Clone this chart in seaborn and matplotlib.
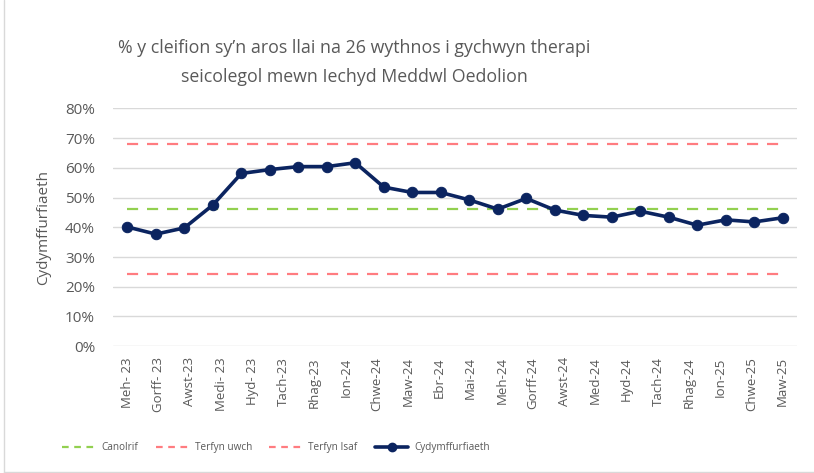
import numpy as np
import pandas as pd
import matplotlib
matplotlib.use('Agg')
import matplotlib.pyplot as plt
import seaborn as sns
from matplotlib.lines import Line2D

# tick labels (22 months) - the chart itself has 24 markers
misoedd = ['Meh- 23', 'Gorff- 23', 'Awst-23', 'Medi- 23', 'Hyd- 23', 'Tach-23', 'Rhag-23',
           'Ion-24', 'Chwe-24', 'Maw-24', 'Ebr-24', 'Mai-24', 'Meh-24', 'Gorff-24',
           'Awst-24', 'Med-24', 'Hyd-24', 'Tach-24', 'Rhag-24', 'Ion-25', 'Chwe-25', 'Maw-25']

cydymffurfiaeth = [40.1, 37.7, 39.8, 47.5, 58.1, 59.4, 60.4, 60.4, 61.7, 53.5, 51.7, 51.7,
                   49.2, 46.1, 49.7, 45.8, 44.0, 43.4, 45.4, 43.4, 40.7, 42.5, 41.8, 43.2]

canolrif = 46.0
terfyn_uwch = 67.9
terfyn_isaf = 24.4

sns.set_theme(style='white')
plt.rcParams['font.family'] = ['Open Sans', 'DejaVu Sans']

grey_txt = '#595959'
navy = '#0B2460'
green = '#92D050'
red = '#FF7C80'

df = pd.DataFrame({'pwynt': np.arange(len(cydymffurfiaeth)), 'gwerth': cydymffurfiaeth})

fig = plt.figure(figsize=(8.14, 4.73), dpi=100)
ax = fig.add_axes([0.139, 0.268, 0.840, 0.503])

n = len(cydymffurfiaeth)
ax.hlines(canolrif, 0, n - 1, colors=green, linestyles=(0, (5, 4)), linewidth=1.6, zorder=2)
ax.hlines(terfyn_uwch, 0, n - 1, colors=red, linestyles=(0, (5, 4)), linewidth=1.6, zorder=2)
ax.hlines(terfyn_isaf, 0, n - 1, colors=red, linestyles=(0, (5, 4)), linewidth=1.6, zorder=2)

sns.lineplot(data=df, x='pwynt', y='gwerth', ax=ax, color=navy, linewidth=2.6,
             marker='o', markersize=7.5, markeredgecolor=navy, zorder=3)

ax.set_xlim(-0.5, n - 0.5)
ax.set_ylim(0, 80)
ax.set_yticks(range(0, 81, 10))
ax.set_yticklabels([f'{v}%' for v in range(0, 81, 10)], color=grey_txt, fontsize=11)
ax.set_xticks(np.linspace(0, n - 1, len(misoedd)))
ax.set_xticklabels(misoedd, rotation=90, color=grey_txt, fontsize=9.5)
ax.tick_params(axis='x', length=0, pad=8)
ax.tick_params(axis='y', length=0, pad=13)
ax.grid(axis='y', color='#D9D9D9', linewidth=1)
for s in ax.spines.values():
    s.set_visible(False)
ax.set_xlabel('')
ax.set_ylabel('Cydymffurfiaeth', color=grey_txt, fontsize=11, labelpad=10)

fig.text(0.435, 0.868, '% y cleifion sy\u2019n aros llai na 26 wythnos i gychwyn therapi\nseicolegol mewn Iechyd Meddwl Oedolion',
         ha='center', va='center', color=grey_txt, fontsize=12.8, linespacing=1.75)

handles = [Line2D([], [], color=green, linestyle=(0, (3, 2.5)), linewidth=1.6),
           Line2D([], [], color=red, linestyle=(0, (3, 2.5)), linewidth=1.6),
           Line2D([], [], color=red, linestyle=(0, (3, 2.5)), linewidth=1.6),
           Line2D([], [], color=navy, linewidth=2.6, marker='o', markersize=6)]
fig.legend(handles, ['Canolrif', 'Terfyn uwch', 'Terfyn Isaf', 'Cydymffurfiaeth'],
           loc='center', bbox_to_anchor=(0.339, 0.053), ncol=4, frameon=False,
           fontsize=7.2, labelcolor=grey_txt, handlelength=3.3, columnspacing=1.75, handletextpad=0.6)

# chart border (left and bottom visible in the screenshot)
fig.add_artist(Line2D([0.005, 0.005], [0.0, 1.0], color='#D9D9D9', linewidth=1))
fig.add_artist(Line2D([0.005, 1.0], [0.003, 0.003], color='#D9D9D9', linewidth=1))

fig.savefig('out.png', dpi=100)
